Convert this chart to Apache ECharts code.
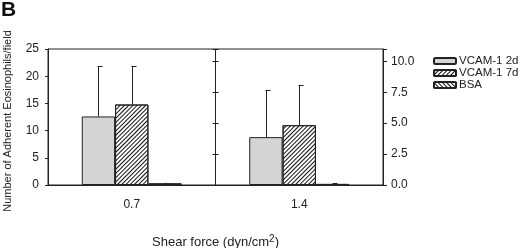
<!DOCTYPE html>
<html>
<head>
<meta charset="utf-8">
<script src="https://cdn.jsdelivr.net/npm/echarts@6/dist/echarts.min.js"></script>
<style>
html, body { margin: 0; padding: 0; background: #fff; }
#main { width: 520px; height: 248px; }
</style>
</head>
<body>
<div id="main"></div>
<script>
// shear force groups
var categories = ['0.7', '1.4'];
var seriesNames = ['VCAM-1 2d', 'VCAM-1 7d', 'BSA'];

// mean values (left axis units) and upper error (SD)
var vcam2d = [12.6, 8.8];
var vcam2dErr = [9.2, 8.7];
var vcam7d = [14.8, 11.0];
var vcam7dErr = [7.1, 7.4];
var bsa = [0.3, 0.2];
var bsaErr = [0.1, 0.1];

var leftTicks = [0, 5, 10, 15, 20, 25];
var rightTicks = ['0.0', '2.5', '5.0', '7.5', '10.0'];

var FONT = '"Liberation Sans", Arial, sans-serif';
var INK = '#222';

var myChart = echarts.init(document.getElementById('main'));

// error bar data: [category index, low, high, slot]
function errData(vals, errs, slot) {
    var out = [];
    for (var i = 0; i < vals.length; i++) {
        out.push([i, vals[i], vals[i] + errs[i], slot]);
    }
    return out;
}

function renderErr(params, api) {
    var c = api.value(0);
    var p0 = api.coord([c, api.value(1)]);
    var p1 = api.coord([c, api.value(2)]);
    var band = api.size([1, 0])[0];
    var x = Math.round(p0[0] + api.value(3) * band * 0.199) + 0.5;
    var st = { stroke: INK, lineWidth: 1 };
    return {
        type: 'group',
        children: [
            { type: 'line', shape: { x1: x, y1: p0[1], x2: x, y2: p1[1] }, style: st },
            { type: 'line', shape: { x1: x - 1, y1: Math.round(p1[1]) + 0.5, x2: x + 4, y2: Math.round(p1[1]) + 0.5 }, style: st }
        ]
    };
}

var tickAxis = function (offset, inside) {
    return {
        type: 'value', position: 'left', offset: offset,
        min: 0, max: 11, interval: 2.5,
        axisLine: { show: false },
        axisTick: { show: true, inside: inside, length: 3, lineStyle: { color: INK } },
        axisLabel: { show: false },
        splitLine: { show: false }
    };
};

var option = {
    animation: false,
    backgroundColor: '#fff',
    title: {
        text: 'B', left: 1, top: 0, padding: 0,
        textStyle: { fontFamily: FONT, fontSize: 21, fontWeight: 'bold', color: '#111' }
    },
    legend: {
        orient: 'vertical', left: 433, top: 55, padding: 0,
        itemWidth: 22, itemHeight: 6, itemGap: 0,
        textStyle: { fontFamily: FONT, fontSize: 11.5, color: INK, lineHeight: 10, padding: [0, 0, 0, -2] },
        data: seriesNames
    },
    grid: {
        left: 48, right: 137, top: 49, bottom: 63,
        outerBoundsMode: 'none', containLabel: false,
        show: true, borderColor: INK, borderWidth: 1, backgroundColor: 'transparent'
    },
    xAxis: {
        type: 'category', data: categories,
        axisLine: { show: true, lineStyle: { color: INK } },
        axisTick: { show: false },
        axisLabel: { fontFamily: FONT, fontSize: 12, color: INK, margin: 14 },
        splitLine: { show: true, lineStyle: { color: INK } },
        name: '{t|Shear force (dyn/cm}{s|2}{t|)}',
        nameLocation: 'middle', nameGap: 49,
        nameTextStyle: {
            rich: {
                t: { fontFamily: FONT, fontSize: 13, color: INK },
                s: { fontFamily: FONT, fontSize: 10, color: INK, verticalAlign: 'bottom', padding: [0, 0, 7, 0] }
            }
        }
    },
    yAxis: [
        {
            type: 'value', min: 0, max: 25, interval: 5,
            axisLine: { show: true, lineStyle: { color: INK } },
            axisTick: { show: true, length: 3, lineStyle: { color: INK } },
            axisLabel: {
                fontFamily: FONT, fontSize: 12, color: INK, margin: 9,
                formatter: function (v) { return leftTicks.indexOf(v) >= 0 ? String(v) : ''; }
            },
            splitLine: { show: false },
            name: 'Number of Adherent Eosinophils/field',
            nameLocation: 'middle', nameGap: 35, nameRotate: 90,
            nameTextStyle: { fontFamily: FONT, fontSize: 11, color: INK, padding: [0, 8, 0, 0] }
        },
        {
            type: 'value', position: 'right', min: 0, max: 11, interval: 2.5,
            axisLine: { show: true, lineStyle: { color: INK } },
            axisTick: { show: true, length: 4, lineStyle: { color: INK } },
            axisLabel: {
                fontFamily: FONT, fontSize: 12, color: INK, margin: 8,
                formatter: function (v) {
                    var s = v.toFixed(1);
                    return rightTicks.indexOf(s) >= 0 ? s : '';
                }
            },
            splitLine: { show: false }
        },
        tickAxis(-167.5, false),
        tickAxis(-167.5, true)
    ],
    series: [
        {
            name: 'VCAM-1 2d', type: 'bar', data: vcam2d,
            barGap: '0%', barCategoryGap: '40.3%',
            itemStyle: { color: '#d4d4d4', borderColor: INK, borderWidth: 1 }
        },
        {
            name: 'VCAM-1 7d', type: 'bar', data: vcam7d,
            itemStyle: {
                color: '#fff', borderColor: INK, borderWidth: 1,
                decal: { symbol: 'rect', symbolSize: 1, color: '#111', dashArrayX: [1, 0], dashArrayY: [1, 2], rotation: -Math.PI / 4 }
            }
        },
        {
            name: 'BSA', type: 'bar', data: bsa,
            itemStyle: {
                color: '#fff', borderColor: INK, borderWidth: 1,
                decal: { symbol: 'rect', symbolSize: 1, color: '#111', dashArrayX: [1, 0], dashArrayY: [1, 2], rotation: Math.PI / 4 }
            }
        },
        { type: 'custom', renderItem: renderErr, data: errData(vcam2d, vcam2dErr, -1), z: 1 },
        { type: 'custom', renderItem: renderErr, data: errData(vcam7d, vcam7dErr, 0), z: 1 },
        { type: 'custom', renderItem: renderErr, data: errData(bsa, bsaErr, 1), z: 1 }
    ]
};

myChart.setOption(option);
</script>
</body>
</html>
